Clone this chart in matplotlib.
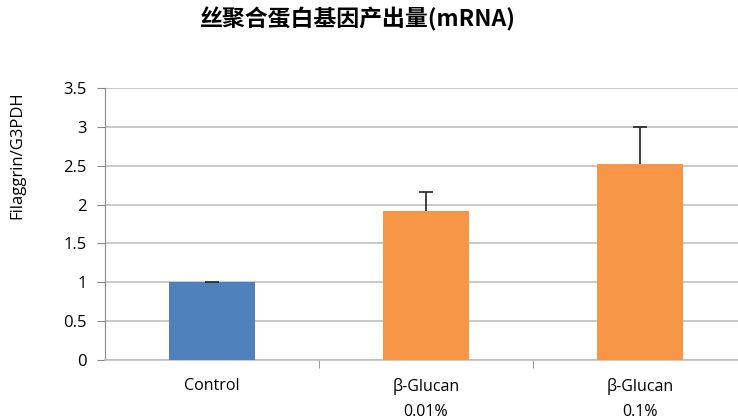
import matplotlib
matplotlib.use("Agg")
import matplotlib.pyplot as plt
import numpy as np

categories = ["Control", "β-Glucan\n0.01%", "β-Glucan\n0.1%"]
values = [1.0, 1.92, 2.52]
errors = [0.01, 0.24, 0.48]
colors = ["#4F81BD", "#F79646", "#F79646"]
yticks = [0, 0.5, 1, 1.5, 2, 2.5, 3, 3.5]
ytick_labels = ["0", "0.5", "1", "1.5", "2", "2.5", "3", "3.5"]
title = "丝聚合蛋白基因产出量(mRNA)"
ylabel = "Filaggrin/G3PDH"

fig = plt.figure(figsize=(7.38, 4.19), dpi=100)
ax = fig.add_axes([105/738, 59/419, 642/738, 272/419])

x = np.arange(len(categories))
ax.bar(x, values, width=0.4, color=colors, zorder=3)
eb = ax.errorbar(x, values, yerr=[np.zeros(len(errors)), errors], fmt="none",
                 ecolor="#222222", elinewidth=1.2, capsize=5, capthick=1.2, zorder=4)
eb[1][0].set_visible(False)

ax.set_xlim(-0.5, len(categories) - 0.5)
ax.set_ylim(0, 3.5)
ax.set_yticks(yticks)
ax.set_yticklabels(ytick_labels, fontsize=12, family="Open Sans")
ax.set_xticks(x)
ax.set_xticklabels(categories, fontsize=11.5, family="Open Sans", linespacing=1.75)
ax.set_xticks([0.5, 1.5], minor=True)
ax.tick_params(axis="x", which="major", length=0, pad=13)
ax.tick_params(axis="x", which="minor", length=6, color="#888888", direction="out")
ax.tick_params(axis="y", length=6, color="#888888", direction="out", pad=7)

ax.grid(axis="y", color="#c0c0c0", linewidth=1.2, zorder=0)
for s in ["top", "right"]:
    ax.spines[s].set_visible(False)
ax.spines["left"].set_color("#888888")
ax.spines["bottom"].set_color("#c0c0c0")
ax.spines["bottom"].set_linewidth(1.2)

fig.text(17/738, 1 - 155/419, ylabel, rotation=90, ha="center", va="center",
         fontsize=12, family="Open Sans")

fig.text(0.485, 1 - 19/419, title, ha="center", va="center", fontsize=16.5, fontweight="bold",
         family=["Noto Sans CJK SC", "DejaVu Sans"])

fig.savefig("out.png", dpi=100)
